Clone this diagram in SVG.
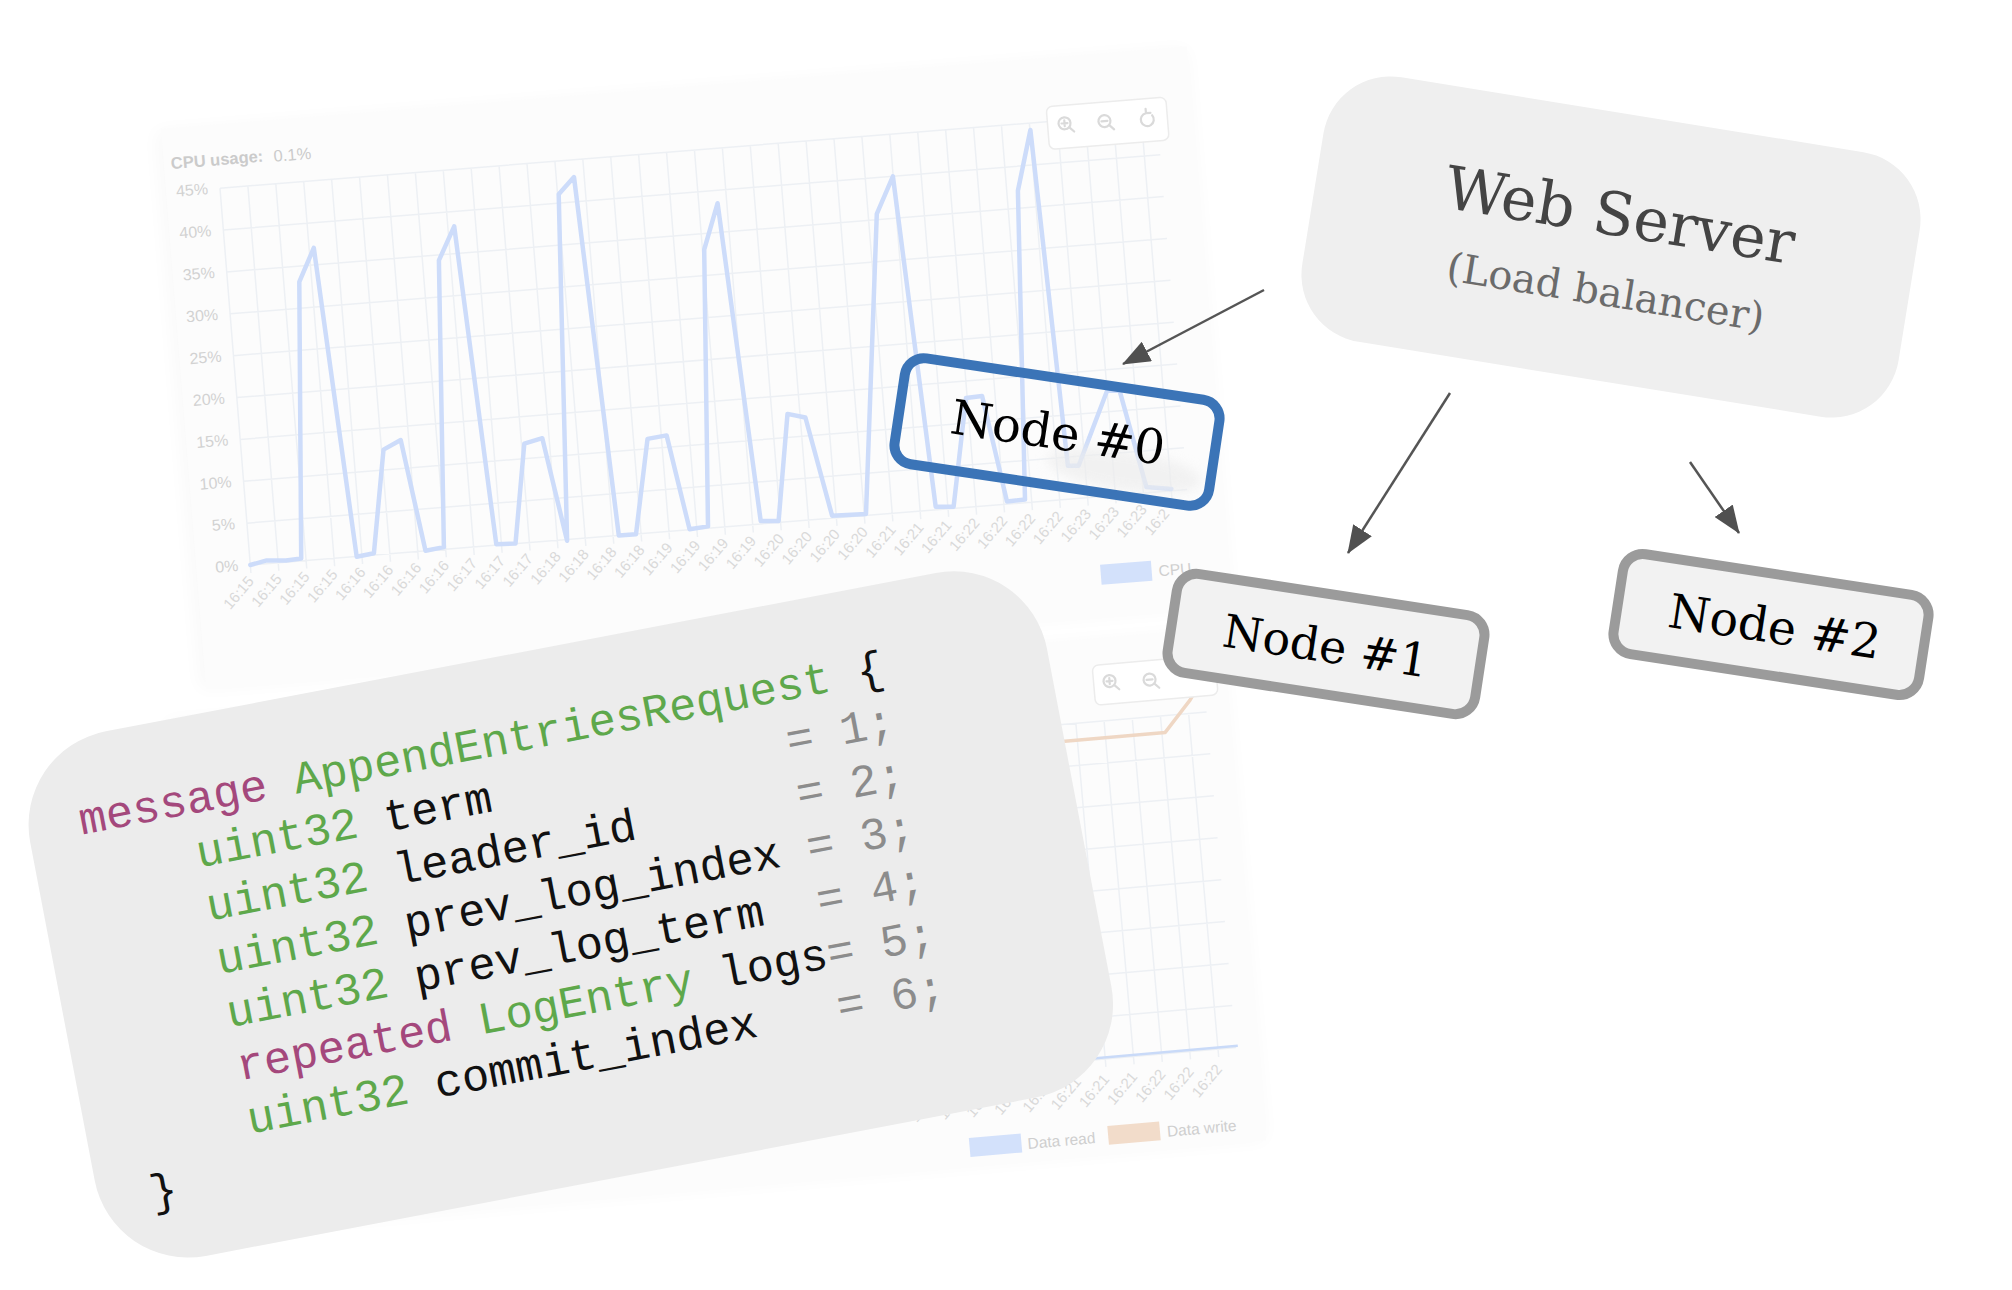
<svg xmlns="http://www.w3.org/2000/svg" width="2012" height="1290" viewBox="0 0 2012 1290">
<defs>
<style>
.grid{stroke:#edf0f4;stroke-width:1.5;fill:none}
.panel{fill:#fcfcfc}
.shadow{fill:#000;opacity:0.022}
.yl{font-family:"Liberation Sans",Arial,sans-serif;font-size:16px;fill:#d2d2d2;text-anchor:end}
.xl{font-family:"Liberation Sans",Arial,sans-serif;font-size:15px;fill:#d9d9d9;text-anchor:end}
.lg{font-family:"Liberation Sans",Arial,sans-serif;font-size:15.5px;fill:#cfcfcf}
.ttl{font-family:"Liberation Sans",Arial,sans-serif;font-size:16.5px;fill:#cbcbcb}
.serie{fill:none;stroke:#cddcfa;stroke-width:4.5;stroke-linejoin:round;stroke-linecap:round}
.btn{fill:#fff;stroke:#ececec;stroke-width:1.5}
.ico{fill:none;stroke:#dadada;stroke-width:2.2;stroke-linecap:round}
.code{font-family:"Liberation Mono","DejaVu Sans Mono",monospace;font-size:45.5px}
.kw{fill:#a4487c}
.ty{fill:#5ea84b}
.id{fill:#111}
.num{fill:#8c8c8c}
.conn{stroke:#555;stroke-width:2.5;fill:none}
.ntext{font-family:"DejaVu Serif","Liberation Serif",serif;text-anchor:middle;fill:#000}
.gbox{fill:#f2f2f2;stroke:#9b9b9b;stroke-width:10}
</style>
<filter id="shadow" x="-10%" y="-10%" width="120%" height="120%"><feGaussianBlur stdDeviation="9"/></filter>
<filter id="smudge" x="-40%" y="-80%" width="180%" height="260%"><feGaussianBlur stdDeviation="6"/></filter>
<marker id="ah" viewBox="0 0 28 22" refX="27" refY="11" markerWidth="28" markerHeight="22" markerUnits="userSpaceOnUse" orient="auto"><path d="M0,0 L28,11 L0,22 Z" fill="#505050"/></marker>
</defs>
<rect width="2012" height="1290" fill="#fff"/>

<g id="cpu-chart">
 <g transform="translate(250.3,565) rotate(-4.6)">
  <rect class="shadow" x="-60" y="-440" width="1035" height="560" filter="url(#shadow)"/>
  <rect class="panel" x="-54" y="-442" width="1029" height="562"/>
  <path class="grid" d="M0,0H940M0,-42H940M0,-84H940M0,-126H940M0,-168H940M0,-210H940M0,-252H940M0,-294H940M0,-336H940M0,-378H940
  M0,8V-378M28,8V-378M56,8V-378M84,8V-378M112,8V-378M140,8V-378M168,8V-378M196,8V-378M224,8V-378M252,8V-378M280,8V-378M308,8V-378M336,8V-378M364,8V-378M392,8V-378M420,8V-378M448,8V-378M476,8V-378M504,8V-378M532,8V-378M560,8V-378M588,8V-378M616,8V-378M644,8V-378M672,8V-378M700,8V-378M728,8V-378M756,8V-378M784,8V-378M812,8V-378M840,8V-378M868,8V-378M896,8V-378M924,8V-378"/>
  <text class="ttl" x="-47" y="-401" font-weight="bold">CPU usage:</text>
  <text class="ttl" x="56" y="-400">0.1%</text>
  <text class="yl" x="-12" y="5">0%</text>
  <text class="yl" x="-12" y="-37">5%</text>
  <text class="yl" x="-12" y="-79">10%</text>
  <text class="yl" x="-12" y="-121">15%</text>
  <text class="yl" x="-12" y="-163">20%</text>
  <text class="yl" x="-12" y="-205">25%</text>
  <text class="yl" x="-12" y="-247">30%</text>
  <text class="yl" x="-12" y="-289">35%</text>
  <text class="yl" x="-12" y="-331">40%</text>
  <text class="yl" x="-12" y="-373">45%</text>
  <text class="xl" transform="translate(3,17) rotate(-45)">16:15</text>
  <text class="xl" transform="translate(31,17) rotate(-45)">16:15</text>
  <text class="xl" transform="translate(59,17) rotate(-45)">16:15</text>
  <text class="xl" transform="translate(87,17) rotate(-45)">16:15</text>
  <text class="xl" transform="translate(115,17) rotate(-45)">16:16</text>
  <text class="xl" transform="translate(143,17) rotate(-45)">16:16</text>
  <text class="xl" transform="translate(171,17) rotate(-45)">16:16</text>
  <text class="xl" transform="translate(199,17) rotate(-45)">16:16</text>
  <text class="xl" transform="translate(227,17) rotate(-45)">16:17</text>
  <text class="xl" transform="translate(255,17) rotate(-45)">16:17</text>
  <text class="xl" transform="translate(283,17) rotate(-45)">16:17</text>
  <text class="xl" transform="translate(311,17) rotate(-45)">16:18</text>
  <text class="xl" transform="translate(339,17) rotate(-45)">16:18</text>
  <text class="xl" transform="translate(367,17) rotate(-45)">16:18</text>
  <text class="xl" transform="translate(395,17) rotate(-45)">16:18</text>
  <text class="xl" transform="translate(423,17) rotate(-45)">16:19</text>
  <text class="xl" transform="translate(451,17) rotate(-45)">16:19</text>
  <text class="xl" transform="translate(479,17) rotate(-45)">16:19</text>
  <text class="xl" transform="translate(507,17) rotate(-45)">16:19</text>
  <text class="xl" transform="translate(535,17) rotate(-45)">16:20</text>
  <text class="xl" transform="translate(563,17) rotate(-45)">16:20</text>
  <text class="xl" transform="translate(591,17) rotate(-45)">16:20</text>
  <text class="xl" transform="translate(619,17) rotate(-45)">16:20</text>
  <text class="xl" transform="translate(647,17) rotate(-45)">16:21</text>
  <text class="xl" transform="translate(675,17) rotate(-45)">16:21</text>
  <text class="xl" transform="translate(703,17) rotate(-45)">16:21</text>
  <text class="xl" transform="translate(731,17) rotate(-45)">16:22</text>
  <text class="xl" transform="translate(759,17) rotate(-45)">16:22</text>
  <text class="xl" transform="translate(787,17) rotate(-45)">16:22</text>
  <text class="xl" transform="translate(815,17) rotate(-45)">16:22</text>
  <text class="xl" transform="translate(843,17) rotate(-45)">16:23</text>
  <text class="xl" transform="translate(871,17) rotate(-45)">16:23</text>
  <text class="xl" transform="translate(899,17) rotate(-45)">16:23</text>
  <text class="xl" transform="translate(921,23) rotate(-45)">16:2</text>
  <rect x="847" y="68" width="51" height="20" fill="#d3e1fb"/>
  <text class="lg" x="905" y="84" font-size="14.5">CPU</text>
  <rect class="btn" x="830" y="-393" width="120" height="43" rx="6"/>
  <g class="ico">
   <circle cx="847" cy="-375" r="6"/><path d="M851.5,-370.5L856,-366M844,-375H850M847,-378V-372"/>
   <circle cx="887" cy="-374" r="6"/><path d="M891.5,-369.5L896,-365M884,-374H890"/>
   <path d="M935,-376A6.5,6.5 0 1 1 929,-378.5M929,-378.5L929,-383M929,-378.5L933.5,-378.5"/>
  </g>
 </g>
 <polyline class="serie" points="250.3,565 266.7,560.4 285.9,560.4 301.2,558.6 299.3,281.8 313.8,247.9 356.7,556.8 373.9,553.2 383.5,449.6 400.7,440 425.5,550.7 443.9,547.1 438.9,260.4 454.2,226.4 496.3,544.3 515.5,543.6 524.3,443.6 542.3,438.2 567.1,540.7 558.7,194.3 574,177.1 618.8,535.4 636,534.3 647.5,438.9 666.6,435.4 689.6,529.3 708,526.4 704.2,249.6 717.6,203.2 760.7,521 778.6,521 787.5,413.9 805.4,417.5 832.1,515.7 866,513.9 876.8,213.9 892.9,176.4 935.7,506.8 953.6,506.8 966,397.9 982.1,396 1007,501.4 1025,499.6 1017.9,190.7 1030.4,130 1067.9,465.7 1078.6,465.7 1107.1,390.7 1119.6,390.7 1146.4,487.1 1171.4,488.9"/>
</g>

<g id="io-chart" transform="translate(1218,1049) rotate(-5)">
 <rect class="shadow" x="-1020" y="-418" width="1060" height="513" filter="url(#shadow)"/>
 <rect class="panel" x="-1020" y="-420" width="1060" height="515"/>
 <path class="grid" d="M-1020,0H18M-1020,-42.1H18M-1020,-84.2H18M-1020,-126.3H18M-1020,-168.4H18M-1020,-210.5H18M-1020,-252.6H18M-1020,-294.7H18M-1020,-336.8H18
 M0,8V-337M-28.3,8V-337M-56.6,8V-337M-84.9,8V-337M-113.2,8V-337M-141.5,8V-337M-169.8,8V-337M-198.1,8V-337M-226.4,8V-337M-254.7,8V-337M-283,8V-337M-311.3,8V-337M-339.6,8V-337M-367.9,8V-337M-396.2,8V-337M-424.5,8V-337M-452.8,8V-337M-481.1,8V-337M-509.4,8V-337M-537.7,8V-337M-566,8V-337M-594.3,8V-337M-622.6,8V-337M-650.9,8V-337M-679.2,8V-337M-707.5,8V-337M-735.8,8V-337M-764.1,8V-337M-792.4,8V-337M-820.7,8V-337M-849,8V-337M-877.3,8V-337M-905.6,8V-337M-933.9,8V-337M-962.2,8V-337M-990.5,8V-337M-1018.8,8V-337"/>
 <path d="M-1020,-1.5H20" fill="none" stroke="#c9daf8" stroke-width="2.5"/>
 <path d="M-1020,-320H-25L2.5,-350L14,-366" fill="none" stroke="#efd7c4" stroke-width="3.5" stroke-linejoin="round"/>
 <rect class="btn" x="-92" y="-393" width="123" height="40" rx="6"/>
 <g class="ico">
  <circle cx="-76" cy="-376" r="6"/><path d="M-71.5,-371.5L-67,-367M-79,-376H-73M-76,-379V-373"/>
  <circle cx="-36" cy="-374" r="6"/><path d="M-31.5,-369.5L-27,-365M-39,-374H-33"/>
 </g>
 <text class="xl" transform="translate(3,21) rotate(-45)">16:22</text>
 <text class="xl" transform="translate(-25.3,21) rotate(-45)">16:22</text>
 <text class="xl" transform="translate(-53.6,21) rotate(-45)">16:22</text>
 <text class="xl" transform="translate(-81.9,21) rotate(-45)">16:21</text>
 <text class="xl" transform="translate(-110.2,21) rotate(-45)">16:21</text>
 <text class="xl" transform="translate(-138.5,21) rotate(-45)">16:21</text>
 <text class="xl" transform="translate(-166.8,21) rotate(-45)">16:20</text>
 <text class="xl" transform="translate(-195.1,21) rotate(-45)">16:20</text>
 <text class="xl" transform="translate(-223.4,21) rotate(-45)">16:20</text>
 <text class="xl" transform="translate(-251.7,21) rotate(-45)">16:20</text>
 <text class="xl" transform="translate(-280,21) rotate(-45)">16:19</text>
 <text class="xl" transform="translate(-308.3,21) rotate(-45)">16:19</text>
 <rect x="-256" y="67" width="52" height="19" fill="#d3e1fb"/>
 <text class="lg" x="-198" y="83">Data read</text>
 <rect x="-117" y="67" width="52" height="19" fill="#f2dcca"/>
 <text class="lg" x="-58" y="83">Data write</text>
</g>

<g id="code" transform="translate(81.7,834.7) rotate(-10.8)">
 <rect x="-52" y="-97" width="1035" height="534" rx="95" fill="#ececec"/>
 <text class="code" y="0"><tspan class="kw" x="0">message</tspan><tspan class="ty" x="218.4">AppendEntriesRequest</tspan><tspan class="id" x="791.7">{</tspan></text>
 <text class="code" y="54.2"><tspan class="ty" x="109.2">uint32</tspan><tspan class="id" x="300.3">term</tspan><tspan class="num" x="709.8">= 1;</tspan></text>
 <text class="code" y="108.4"><tspan class="ty" x="109.2">uint32</tspan><tspan class="id" x="300.3">leader_id</tspan><tspan class="num" x="709.8">= 2;</tspan></text>
 <text class="code" y="162.6"><tspan class="ty" x="109.2">uint32</tspan><tspan class="id" x="300.3">prev_log_index</tspan><tspan class="num" x="709.8">= 3;</tspan></text>
 <text class="code" y="216.8"><tspan class="ty" x="109.2">uint32</tspan><tspan class="id" x="300.3">prev_log_term</tspan><tspan class="num" x="709.8">= 4;</tspan></text>
 <text class="code" y="271"><tspan class="kw" x="109.2">repeated</tspan><tspan class="ty" x="354.9">LogEntry</tspan><tspan class="id" x="600.6">logs</tspan><tspan class="num" x="709.8">= 5;</tspan></text>
 <text class="code" y="325.2"><tspan class="ty" x="109.2">uint32</tspan><tspan class="id" x="300.3">commit_index</tspan><tspan class="num" x="709.8">= 6;</tspan></text>
 <text class="code id" x="0" y="379.4">}</text>
</g>

<g id="node0" transform="translate(1057,432) rotate(8.5)">
 <ellipse cx="72" cy="28" rx="78" ry="20" fill="#ededed" opacity="0.7" filter="url(#smudge)"/>
 <rect x="-159" y="-53.5" width="318" height="107" rx="19" fill="none" stroke="#3b74b7" stroke-width="10"/>
 <text class="ntext" x="1" y="17" font-size="48">Node #0</text>
</g>

<g id="connectors">
 <line class="conn" x1="1264" y1="290" x2="1123" y2="364" marker-end="url(#ah)"/>
 <line class="conn" x1="1450" y1="393" x2="1348" y2="553" marker-end="url(#ah)"/>
 <line class="conn" x1="1690" y1="462" x2="1739" y2="533" marker-end="url(#ah)"/>
</g>

<g id="web-server" transform="translate(1611,247) rotate(9.2)">
 <rect x="-302" y="-134" width="604" height="268" rx="68" fill="#efefef"/>
 <text class="ntext" x="4" y="-12" font-size="60" style="fill:#444">Web Server</text>
 <text class="ntext" x="2" y="59" font-size="40" style="fill:#6b6b6b">(Load balancer)</text>
</g>

<g id="node1" transform="translate(1326,644) rotate(8.7)">
 <rect class="gbox" x="-155.5" y="-50" width="311" height="100" rx="20"/>
 <text class="ntext" x="0" y="18" font-size="46">Node #1</text>
</g>

<g id="node2" transform="translate(1771,624.5) rotate(8.7)">
 <rect class="gbox" x="-154.5" y="-50.5" width="309" height="101" rx="20"/>
 <text class="ntext" x="4" y="18" font-size="47.5">Node #2</text>
</g>
</svg>
